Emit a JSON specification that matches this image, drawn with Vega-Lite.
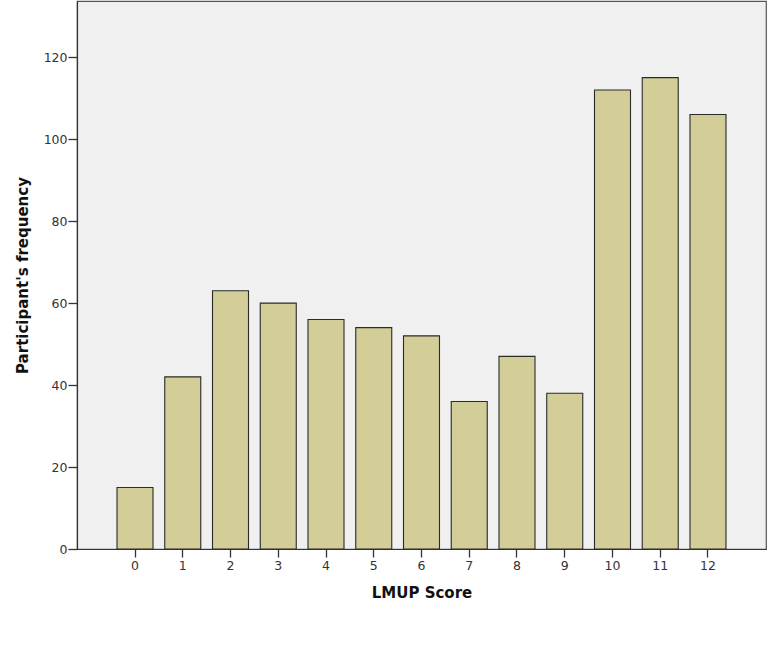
{
  "$schema": "https://vega.github.io/schema/vega-lite/v6.json",
  "autosize": "none",
  "width": 689,
  "height": 548,
  "padding": {"left": 77, "top": 1, "right": 6, "bottom": 98},
  "background": "white",
  "config": {
    "view": {"fill": "#f0f0f0", "stroke": "#555555", "strokeWidth": 1.2},
    "font": "DejaVu Sans"
  },
  "data": {
    "values": [
      {"score": "0", "freq": 15},
      {"score": "1", "freq": 42},
      {"score": "2", "freq": 63},
      {"score": "3", "freq": 60},
      {"score": "4", "freq": 56},
      {"score": "5", "freq": 54},
      {"score": "6", "freq": 52},
      {"score": "7", "freq": 36},
      {"score": "8", "freq": 47},
      {"score": "9", "freq": 38},
      {"score": "10", "freq": 112},
      {"score": "11", "freq": 115},
      {"score": "12", "freq": 106}
    ]
  },
  "mark": {"type": "bar", "fill": "#d3ce97", "stroke": "#2a2a2a", "strokeWidth": 1.1},
  "encoding": {
    "x": {
      "field": "score",
      "type": "ordinal",
      "sort": null,
      "scale": {"paddingInner": 0.246, "paddingOuter": 0.838},
      "axis": {
        "title": "LMUP Score",
        "titleFont": "DejaVu Sans",
        "titleFontSize": 15,
        "titleFontWeight": "bold",
        "titleColor": "#111111",
        "titlePadding": 14,
        "labelAngle": 0,
        "labelFontSize": 12.5,
        "labelColor": "#333333",
        "labelPadding": 2,
        "tickSize": 8,
        "tickColor": "#333333",
        "tickWidth": 1.3,
        "domainColor": "#333333",
        "domainWidth": 1.2,
        "grid": false
      }
    },
    "y": {
      "field": "freq",
      "type": "quantitative",
      "scale": {"domain": [0, 133.7], "nice": false, "zero": true},
      "axis": {
        "title": "Participant's frequency",
        "titleFont": "DejaVu Sans",
        "titleFontSize": 15,
        "titleFontWeight": "bold",
        "titleColor": "#111111",
        "titlePadding": 13,
        "values": [0, 20, 40, 60, 80, 100, 120],
        "labelFontSize": 12.5,
        "labelColor": "#333333",
        "labelPadding": 1,
        "tickSize": 9,
        "tickColor": "#333333",
        "tickWidth": 1.3,
        "domainColor": "#333333",
        "domainWidth": 1.2,
        "grid": false
      }
    }
  }
}
